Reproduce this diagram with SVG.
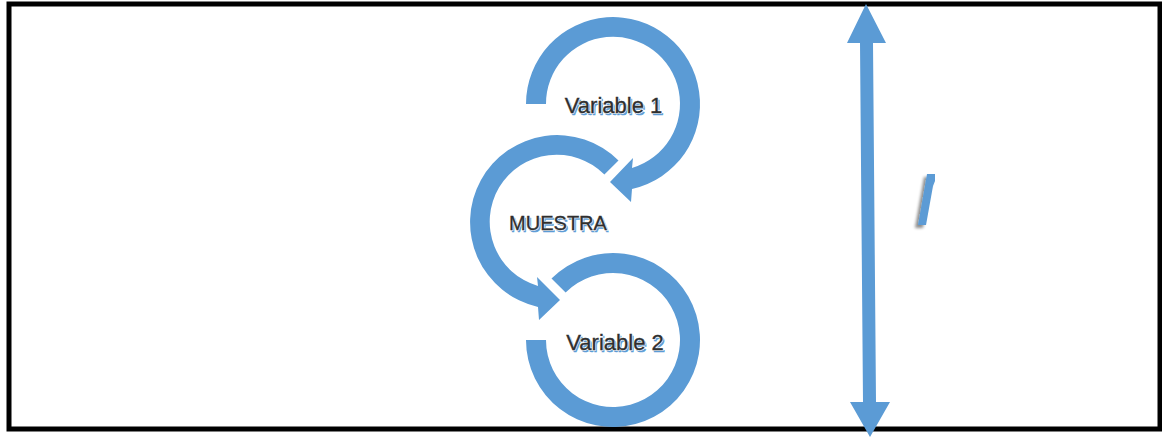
<svg xmlns="http://www.w3.org/2000/svg" width="1162" height="437" viewBox="0 0 1162 437">
  <style>
    .arc { fill: #5B9BD5; }
    .lbl { font-family: "Liberation Sans", Arial, sans-serif; }
    .lbl-shadow { fill: #5B9BD5; stroke: #5B9BD5; stroke-width: 0.6; }
    .lbl-halo { fill: none; stroke: #ffffff; stroke-width: 1.6; }
    .lbl-main { fill: #2f2f2f; stroke: #2f2f2f; stroke-width: 0.35; }
  </style>
  <defs>
    <filter id="soft-shadow" x="-50%" y="-20%" width="200%" height="140%">
      <feGaussianBlur in="SourceAlpha" stdDeviation="1.6"/>
      <feOffset dx="-3" dy="3" result="blur"/>
      <feComponentTransfer><feFuncA type="linear" slope="0.45"/></feComponentTransfer>
      <feMerge><feMergeNode/><feMergeNode in="SourceGraphic"/></feMerge>
    </filter>
  </defs>

  <rect width="1162" height="437" fill="#ffffff"/>
  <!-- frame -->
  <rect x="9" y="4" width="1151" height="425" fill="none" stroke="#000000" stroke-width="5"/>

  <g id="connectors">
    <!-- circular arrow around Variable 1, head pointing into MUESTRA -->
    <path class="arc" d="M 526,104 A 87 87 0 1 1 632,189 L 631,202 L 610,182 L 633,158 L 632,168 A 67 67 0 1 0 546,104 Z"/>
    <!-- circular arrow around MUESTRA, head pointing into Variable 2 -->
    <path class="arc" d="M 618.5,160.5 A 87 87 0 1 0 538,307 L 539,320 L 560,300 L 537,277 L 538,286 A 67 67 0 1 1 604.4,174.6 Z"/>
    <!-- open ring around Variable 2 -->
    <path class="arc" d="M 551.5,278.5 A 87 87 0 1 1 526,340 L 546,340 A 67 67 0 1 0 565.6,292.6 Z"/>
    <!-- vertical double-headed arrow -->
    <polygon class="arc" points="866,4 886,43 873,43 876,402 890,402 870,437 850,402 863,402 860,43 847,43"/>
    <!-- small slanted stroke -->
    <polygon class="arc" filter="url(#soft-shadow)" points="927,174 935,174 935,181 933,186 926,225 918,225"/>
  </g>

  <g id="node-variable1" class="lbl" font-size="22" text-anchor="middle">
    <text class="lbl-shadow" x="615" y="114.5">Variable 1</text>
    <text class="lbl-halo" x="613.5" y="113">Variable 1</text>
    <text class="lbl-main" x="613.5" y="113">Variable 1</text>
  </g>

  <g id="node-muestra" class="lbl" font-size="20" text-anchor="middle">
    <text class="lbl-shadow" x="559.5" y="231.5">MUESTRA</text>
    <text class="lbl-halo" x="558" y="230">MUESTRA</text>
    <text class="lbl-main" x="558" y="230">MUESTRA</text>
  </g>

  <g id="node-variable2" class="lbl" font-size="22" text-anchor="middle">
    <text class="lbl-shadow" x="616.5" y="351.5">Variable 2</text>
    <text class="lbl-halo" x="615" y="350">Variable 2</text>
    <text class="lbl-main" x="615" y="350">Variable 2</text>
  </g>
</svg>
